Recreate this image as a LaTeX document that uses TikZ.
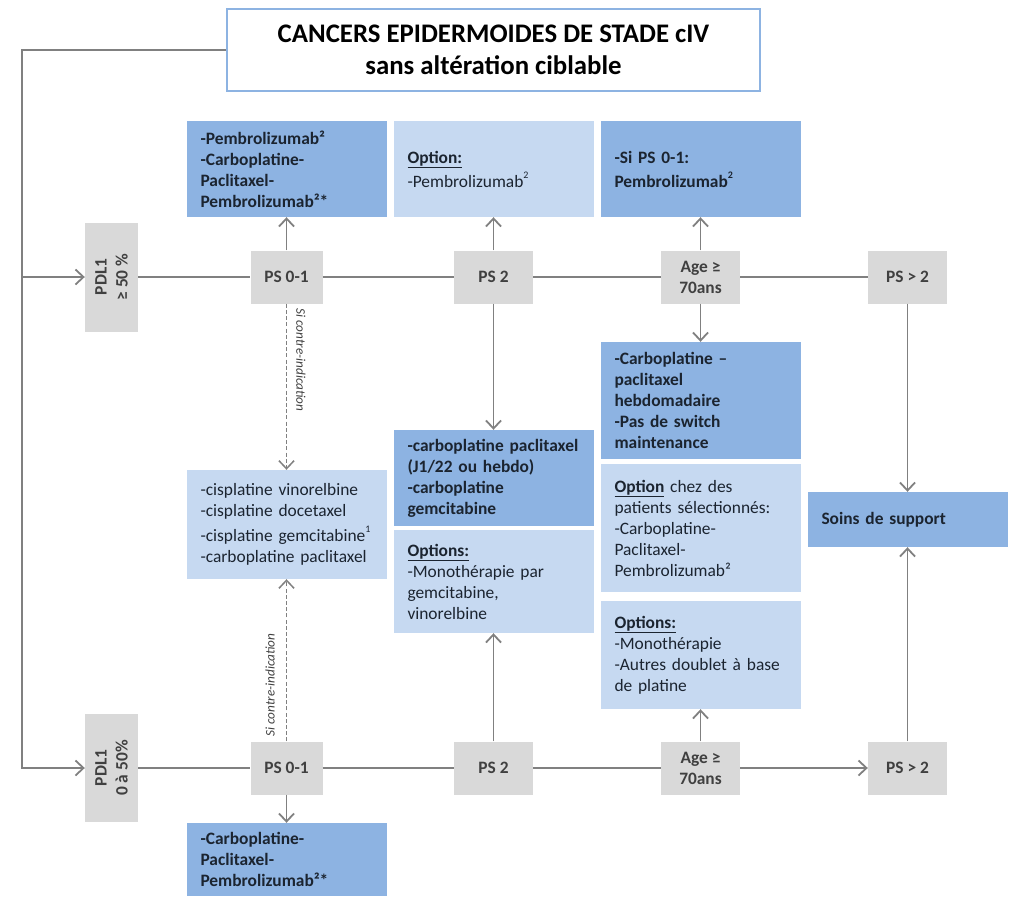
\documentclass[tikz,border=0pt]{standalone}
\usepackage{fontspec}
\setmainfont{Carlito}
\usetikzlibrary{arrows.meta}
\definecolor{dblue}{HTML}{8DB3E2}
\definecolor{lblue}{HTML}{C6D9F1}
\definecolor{gfill}{HTML}{D9D9D9}
\definecolor{lcol}{HTML}{808080}
\definecolor{gtxt}{HTML}{404040}
\definecolor{btxt}{HTML}{1B2430}
\definecolor{tborder}{HTML}{8DB3E2}
\newcommand\mysup[1]{\raisebox{0.5em}{\fontsize{10}{10}\selectfont #1}}
\begin{document}
\begin{tikzpicture}[x=1pt,y=-1pt,
  gbox/.style={fill=gfill, text=gtxt, inner sep=0pt, align=center,
     font=\bfseries\fontsize{17.4}{21}\selectfont},
  bbox/.style={inner xsep=14pt, inner ysep=0pt, text width=172pt, align=left,
     minimum width=200pt, text=btxt, font=\fontsize{17.4}{21}\selectfont},
  dbox/.style={bbox, fill=dblue},
  lbox/.style={bbox, fill=lblue},
  conn/.style={draw=lcol, line width=1.8pt},
  arr/.style={conn, -{Straight Barb[length=8pt,width=15pt,line width=1.8pt]}},
  dconn/.style={draw=lcol, line width=1.2pt, dash pattern=on 4pt off 2.2pt,
     -{Straight Barb[length=8pt,width=15pt,line width=1.5pt]}},
  lab/.style={text=gtxt, inner sep=0pt, font=\itshape\fontsize{13.2}{15}\selectfont}
]
\useasboundingbox (0,0) rectangle (1024,910);

% title
\node[draw=tborder, line width=2.6pt, fill=white, minimum width=533pt, minimum height=82pt,
  align=center, inner sep=0pt, font=\bfseries\fontsize{26.8}{32}\selectfont, text=black]
  (title) at (493.5,50) {CANCERS EPIDERMOIDES DE STADE cIV\\sans altération ciblable};

% PDL1 boxes
\node[gbox, minimum width=109pt, minimum height=53pt, rotate=90] (pdlA) at (111.5,277) {PDL1\\≥ 50 \%};
\node[gbox, minimum width=108pt, minimum height=53pt, rotate=90] (pdlB) at (111.5,768) {PDL1\\0 à 50\%};

% top row
\node[gbox, minimum width=72pt, minimum height=53pt] (psA1) at (286.5,277) {PS 0-1};
\node[gbox, minimum width=79pt, minimum height=53pt] (psA2) at (493.5,277) {PS 2};
\node[gbox, minimum width=79pt, minimum height=53pt] (ageA) at (700.5,277) {Age ≥\\70ans};
\node[gbox, minimum width=79pt, minimum height=53pt] (pgtA) at (907.5,277) {PS > 2};

% bottom row
\node[gbox, minimum width=72pt, minimum height=53pt] (psB1) at (286.5,768) {PS 0-1};
\node[gbox, minimum width=79pt, minimum height=53pt] (psB2) at (493.5,768) {PS 2};
\node[gbox, minimum width=79pt, minimum height=53pt] (ageB) at (700.5,768) {Age ≥\\70ans};
\node[gbox, minimum width=79pt, minimum height=53pt] (pgtB) at (907.5,768) {PS > 2};

% top boxes
\node[dbox, minimum height=96pt, font=\bfseries\fontsize{17.4}{21}\selectfont] (b1) at (286.5,169)
  {-Pembrolizumab²\\-Carboplatine-\\Paclitaxel-\\Pembrolizumab²*};
\node[lbox, minimum height=96pt] (b2) at (493.5,169)
  {\underline{\textbf{Option:}}\\[3pt]-Pembrolizumab\mysup{2}};
\node[dbox, minimum height=96pt, font=\bfseries\fontsize{17.4}{21}\selectfont] (b3) at (700.5,169)
  {-Si PS 0-1:\\[3pt]Pembrolizumab\mysup{2}};

% middle boxes
\node[lbox, minimum height=109pt] (cis) at (286.5,524.5)
  {-cisplatine vinorelbine\\-cisplatine docetaxel\\[4pt]-cisplatine gemcitabine\mysup{1}\\-carboplatine paclitaxel};
\node[dbox, minimum height=96pt, font=\bfseries\fontsize{17.4}{21}\selectfont] (cm) at (493.5,478)
  {-carboplatine paclitaxel\\(J1/22 ou hebdo)\\-carboplatine\\gemcitabine};
\node[lbox, minimum height=103pt] (om) at (493.5,581.5)
  {\underline{\textbf{Options:}}\\-Monothérapie par\\gemcitabine,\\vinorelbine};
\node[dbox, minimum height=117pt, font=\bfseries\fontsize{17.4}{21}\selectfont] (cr) at (700.5,400.5)
  {-Carboplatine –\\paclitaxel\\hebdomadaire\\-Pas de switch\\maintenance};
\node[lbox, minimum height=128pt] (or1) at (700.5,528)
  {\underline{\textbf{Option}} chez des\\patients sélectionnés:\\-Carboplatine-\\Paclitaxel-\\Pembrolizumab²};
\node[lbox, minimum height=108pt] (or2) at (700.5,655)
  {\underline{\textbf{Options:}}\\-Monothérapie\\-Autres doublet à base\\de platine};
\node[dbox, minimum height=55pt, font=\bfseries\fontsize{17.4}{21}\selectfont] (soins) at (907.5,519.5)
  {Soins de support};

% bottom box
\node[dbox, minimum height=73pt, font=\bfseries\fontsize{17.4}{21}\selectfont] (bb) at (286.5,859.5)
  {-Carboplatine-\\Paclitaxel-\\Pembrolizumab²*};

% left trunk
\coordinate (corner) at (22,50);
\draw[arr] (title.west) -- (corner) |- (pdlB.north);
\draw[arr] (corner |- pdlA.north) -- (pdlA.north);

% top row connectors
\draw[conn] (pdlA.south) -- (psA1.west);
\draw[conn] (psA1.east) -- (psA2.west);
\draw[conn] (psA2.east) -- (ageA.west);
\draw[conn] (ageA.east) -- (pgtA.west);
\draw[arr] (psA1.north) -- (b1.south);
\draw[arr] (psA2.north) -- (b2.south);
\draw[arr] (ageA.north) -- (b3.south);
\draw[arr] (ageA.south) -- (cr.north);
\draw[arr] (psA2.south) -- (cm.north);
\draw[arr] (pgtA.south) -- (soins.north);
\draw[dconn] (psA1.south) -- (cis.north);
\node[lab, rotate=-90] (labA) at (301,360) {Si contre-indication};

% bottom row connectors
\draw[conn] (pdlB.south) -- (psB1.west);
\draw[conn] (psB1.east) -- (psB2.west);
\draw[conn] (psB2.east) -- (ageB.west);
\draw[arr] (ageB.east) -- (pgtB.west);
\draw[arr] (psB1.south) -- (bb.north);
\draw[arr] (psB2.north) -- (om.south);
\draw[arr] (ageB.north) -- (or2.south);
\draw[arr] (pgtB.north) -- (soins.south);
\draw[dconn] (psB1.north) -- (cis.south);
\node[lab, rotate=90] (labB) at (270,685) {Si contre-indication};
\end{tikzpicture}
\end{document}
